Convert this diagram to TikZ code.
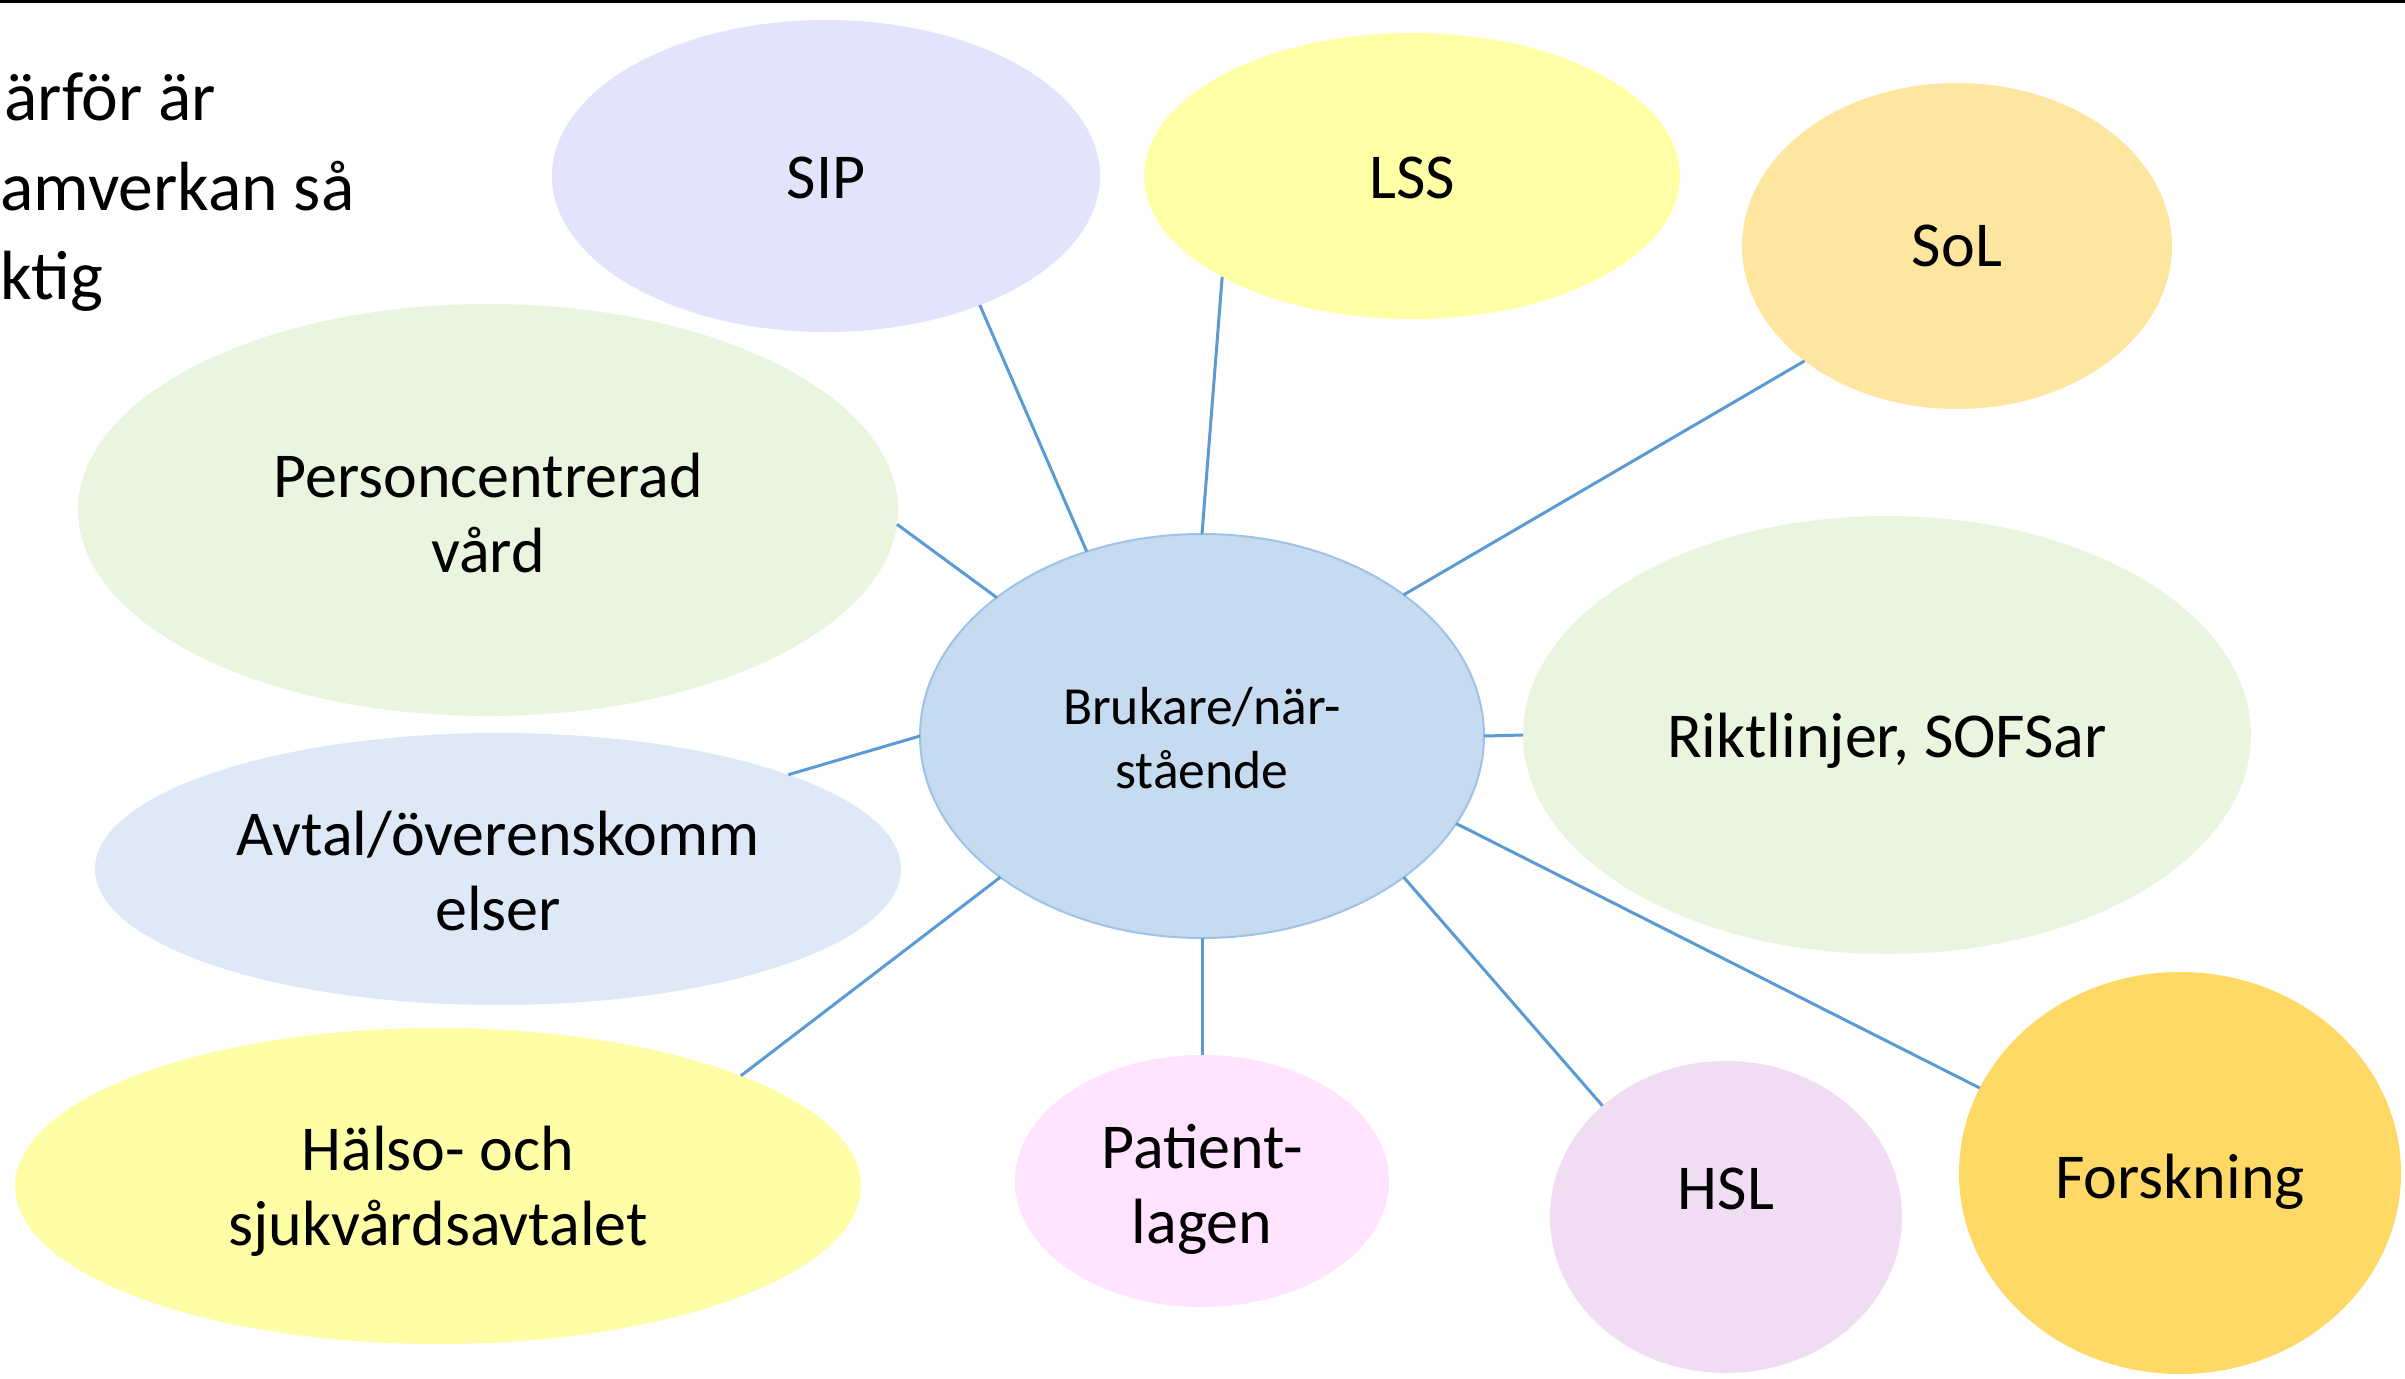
\documentclass[tikz,border=0pt]{standalone}
\usepackage{fontspec}
\setmainfont{Carlito}
\usetikzlibrary{shapes.geometric}
\definecolor{conncol}{HTML}{5B9BD5}
\definecolor{cfill}{HTML}{C6DBEF}
\definecolor{cdraw}{HTML}{9DC3E6}
\definecolor{sipcol}{HTML}{E3E3FB}
\definecolor{lsscol}{HTML}{FFFFA6}
\definecolor{solcol}{HTML}{FFE6A0}
\definecolor{greencol}{HTML}{EAF5E0}
\definecolor{avtalcol}{HTML}{DDE9F6}
\definecolor{halsocol}{HTML}{FFFEA6}
\definecolor{patcol}{HTML}{FFE3FF}
\definecolor{hslcol}{HTML}{F1DDF3}
\definecolor{forskcol}{HTML}{FFD966}
\begin{document}
\begin{tikzpicture}[x=0.5pt,y=-0.5pt,
  bubble/.style={ellipse,inner sep=0pt,outer sep=0pt},
  lbl/.style 2 args={label={[align=center,inner sep=0pt,
    font=\fontsize{32}{37.5}\selectfont,yshift=#1]center:{#2}}},
  conn/.style={draw=conncol,line width=1.5pt},
  toptext/.style={anchor=base west,inner sep=0pt,font=\fontsize{34.8}{45}\selectfont}]
\useasboundingbox (0,0) rectangle (2405,1378);
\fill[white] (0,0) rectangle (2405,1378);
\draw[black,line width=2pt] (0,1) -- (2405,1);
% top-left text
\node[toptext] (t1) at (4,120) {ärför är};
\node[toptext] (t2) at (0,210) {amverkan så};
\node[toptext] (t3) at (0,299) {ktig};
% outer bubbles
\node[bubble,fill=sipcol,minimum width=274pt,minimum height=156pt,lbl={-0.8pt}{SIP}] (sip) at (826,176) {};
\node[bubble,fill=lsscol,minimum width=268pt,minimum height=143pt,lbl={-0.8pt}{LSS}] (lss) at (1412,176) {};
\node[bubble,fill=solcol,minimum width=215pt,minimum height=163pt,lbl={0pt}{SoL}] (sol) at (1957,246) {};
\node[bubble,fill=greencol,minimum width=410pt,minimum height=206pt,lbl={-1.5pt}{Personcentrerad\\vård}] (pers) at (488,510) {};
\node[bubble,fill=greencol,minimum width=364pt,minimum height=219pt,lbl={-3pt}{Riktlinjer, SOFSar}] (rikt) at (1887,735) {};
\node[bubble,fill=avtalcol,minimum width=403pt,minimum height=136pt,lbl={-1pt}{Avtal/överenskomm\\elser}] (avtal) at (498,869) {};
\node[bubble,fill=halsocol,minimum width=423pt,minimum height=158pt,lbl={-2.5pt}{Hälso- och\\sjukvårdsavtalet}] (halso) at (438,1186) {};
\node[bubble,fill=patcol,minimum width=187pt,minimum height=126pt,lbl={-4pt}{Patient-\\lagen}] (pat) at (1202,1181) {};
\node[bubble,fill=hslcol,minimum width=176pt,minimum height=156pt,lbl={14pt}{HSL}] (hsl) at (1726,1217) {};
\node[bubble,fill=forskcol,minimum width=221pt,minimum height=201pt,lbl={-4.5pt}{Forskning}] (forsk) at (2180,1173) {};
% center
\node[bubble,fill=cfill,draw=cdraw,line width=1pt,minimum width=282pt,minimum height=202pt,
  align=center,font=\fontsize{26.8}{32}\selectfont,yshift=0pt] (c) at (1202,736) {};
\node[align=center,inner sep=0pt,font=\fontsize{26.8}{32}\selectfont] (ctext) at ([yshift=-1pt]c.center) {Brukare/när-\\stående};
% connectors
\draw[conn] (c.122.2) -- (sip.-40.6);
\draw[conn] (c.90) -- (lss.208.5);
\draw[conn] (c.35.8) -- (sol.217.8);
\draw[conn] (c.146) -- (pers.-2);
\draw[conn] (c.0) -- (rikt.180);
\draw[conn] (c.180) -- (avtal.18.7);
\draw[conn] (c.215.9) -- (halso.20.9);
\draw[conn] (c.270) -- (pat.90);
\draw[conn] (c.-35.8) -- (hsl.138.9);
\draw[conn] (c.-19) -- (forsk.157.4);
\end{tikzpicture}
\end{document}
